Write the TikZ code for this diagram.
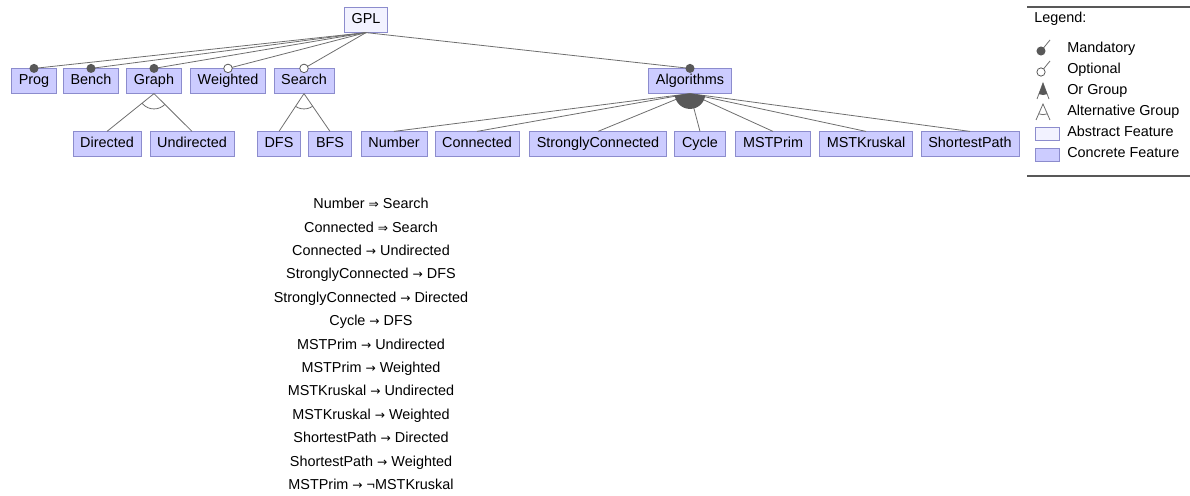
\documentclass[tikz,border=0pt]{standalone}
\usepackage{fontspec}
\setmainfont{Liberation Sans}
\newfontfamily\symf{DejaVu Sans}[Scale=0.85]
\usetikzlibrary{positioning}
\definecolor{concrete}{RGB}{204,204,255}
\definecolor{abstract}{RGB}{242,242,255}
\definecolor{featline}{RGB}{140,140,205}
\definecolor{edgegray}{RGB}{110,110,110}
\definecolor{dotgray}{RGB}{88,88,88}
\newcommand\consreq{{\symf ⇒}}
\newcommand\consimp{{\symf →}}

\begin{document}
\begin{tikzpicture}[x=0.75pt,y=-0.75pt,
    feature/.style={draw=featline,fill=concrete,font=\fontsize{10.8}{12}\selectfont,
      minimum height=18.5pt,inner xsep=5.5pt,inner ysep=0pt,
      text height=7.8pt,text depth=2.2pt},
    abstr/.style={feature,fill=abstract},
    link/.style={draw=edgegray,line width=0.6pt},
    mandot/.style={fill=dotgray},
    optdot/.style={draw=dotgray,fill=white,line width=0.6pt},
    cons/.style={font=\fontsize{10.8}{12}\selectfont,inner sep=0pt,
      text height=7.8pt,text depth=2.2pt}]
  \useasboundingbox (0,0) rectangle (1190,496);

  \node[abstr] (gpl) at (366,20) {GPL};

  \node[feature] (prog)     at (34,81)  {Prog};
  \node[feature] (bench)    at (91,81)  {Bench};
  \node[feature] (graph)    at (154,81) {Graph};
  \node[feature] (weighted) at (228,81) {Weighted};
  \node[feature] (search)   at (304,81) {Search};
  \node[feature] (algo)     at (690,81) {Algorithms};

  \node[feature] (directed)   at (107,144) {Directed};
  \node[feature] (undirected) at (192,144) {Undirected};
  \node[feature] (dfs)        at (279,144) {DFS};
  \node[feature] (bfs)        at (330,144) {BFS};
  \node[feature] (number)     at (394,144) {Number};
  \node[feature] (connected)  at (477,144) {Connected};
  \node[feature] (strongly)   at (598,144) {StronglyConnected};
  \node[feature] (cycle)      at (700,144) {Cycle};
  \node[feature] (mstprim)    at (773,144) {MSTPrim};
  \node[feature] (mstkruskal) at (866,144) {MSTKruskal};
  \node[feature] (shortest)   at (970,144) {ShortestPath};

  \foreach \c in {prog,bench,graph,algo}{
    \draw[link] (gpl.south) -- (\c.north);
    \fill[mandot] (\c.north) circle (3.4pt);
  }
  \foreach \c in {weighted,search}{
    \draw[link] (gpl.south) -- (\c.north);
    \filldraw[optdot] (\c.north) circle (3.2pt);
  }

  \foreach \p/\a/\b in {graph/directed/undirected,search/dfs/bfs}{
    \draw[link] (\p.south) -- (\a.north);
    \draw[link] (\p.south) -- (\b.north);
    \begin{scope}
      \clip (\p.south) -- (\a.north) -- (\b.north) -- cycle;
      \draw[link] (\p.south) circle (11.5pt);
    \end{scope}
  }

  \foreach \c in {number,connected,strongly,cycle,mstprim,mstkruskal,shortest}
    \draw[link] (algo.south) -- (\c.north);
  \begin{scope}
    \clip (algo.south) -- (number.north) -- (shortest.north) -- cycle;
    \fill[dotgray] (algo.south) circle (11.5pt);
  \end{scope}

  \foreach \t [count=\i] in {
      Number \consreq{} Search,
      Connected \consreq{} Search,
      Connected \consimp{} Undirected,
      StronglyConnected \consimp{} DFS,
      StronglyConnected \consimp{} Directed,
      Cycle \consimp{} DFS,
      MSTPrim \consimp{} Undirected,
      MSTPrim \consimp{} Weighted,
      MSTKruskal \consimp{} Undirected,
      MSTKruskal \consimp{} Weighted,
      ShortestPath \consimp{} Directed,
      ShortestPath \consimp{} Weighted,
      MSTPrim \consimp{} ¬MSTKruskal}
    \node[cons] (c\i) at (371,{205+23.4*(\i-1)}) {\t};

  \draw[dotgray,line width=1.6pt] (1027,7) -- (1190,7);
  \draw[dotgray,line width=1.6pt] (1027,176) -- (1190,176);
  \node[cons,anchor=west] (legend) at (1034,19) {Legend:};

  \foreach \y/\t [count=\i] in {49/Mandatory,70/Optional,91/Or Group,
      112/Alternative Group,133/Abstract Feature,154/Concrete Feature}
    \node[cons,anchor=west] (leg\i) at (1067,\y) {\t};

  \draw[link] (1041,51) -- (1050,40);
  \fill[mandot] (1041,51) circle (3.4pt);
  \draw[link] (1041,72) -- (1050,61);
  \filldraw[optdot] (1041,72) circle (3.1pt);

  \draw[link] (1037,99) -- (1043,83) -- (1049,99);
  \begin{scope}
    \clip (1043,83) -- (1037,99) -- (1049,99) -- cycle;
    \fill[dotgray] (1043,83) circle (9pt);
  \end{scope}
  \draw[link] (1036,120) -- (1043,104) -- (1050,120);
  \begin{scope}
    \clip (1043,104) -- (1036,120) -- (1050,120) -- cycle;
    \draw[link] (1043,104) circle (8pt);
  \end{scope}

  \draw[draw=featline,fill=abstract] (1035,127) rectangle (1059,140);
  \draw[draw=featline,fill=concrete] (1035,148) rectangle (1059,161);
\end{tikzpicture}
\end{document}
